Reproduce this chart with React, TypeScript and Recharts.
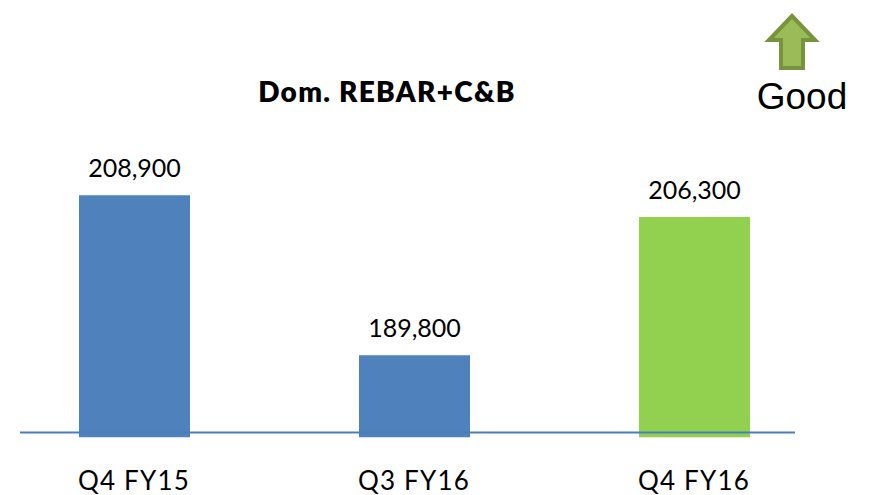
import React from 'react';
import { BarChart, Bar, XAxis, YAxis, LabelList, Cell, ReferenceLine } from 'recharts';

const categories = ['Q4 FY15', 'Q3 FY16', 'Q4 FY16'];
const volumes = [208900, 189800, 206300];
const barColors = ['#4F81BD', '#4F81BD', '#92D050'];

const data = categories.map((period, i) => ({ period, volume: volumes[i] }));

const FONT = 'Lato, "Open Sans", sans-serif';

const fmt = (v: number) => v.toLocaleString('en-US');

function GoodArrow() {
    return (
        <svg width={60} height={64} style={{ position: 'absolute', left: 762, top: 12 }}>
            <polygon
                points="30,4 53,28 41,28 41,56 19,56 19,28 7,28"
                fill="#9BBB59"
                stroke="#77933C"
                strokeWidth={4}
                strokeLinejoin="miter"
            />
        </svg>
    );
}

export default function App() {
    return (
        <div style={{ position: 'absolute', left: 0, top: 0, width: 871, height: 495, background: '#fff' }}>
            <BarChart
                width={871}
                height={495}
                data={data}
                margin={{ top: 144, right: 37, left: -6, bottom: 0 }}
                barCategoryGap={0}
            >
                <XAxis
                    dataKey="period"
                    axisLine={false}
                    tickLine={false}
                    height={57.5}
                    tick={{ fill: '#000', fontSize: 26, fontFamily: FONT, letterSpacing: 1.2 }}
                    tickMargin={28}
                />
                <YAxis hide domain={[180000, 215000]} allowDataOverflow />
                <Bar dataKey="volume" barSize={111} isAnimationActive={false}>
                    {data.map((d, i) => (
                        <Cell key={d.period} fill={barColors[i]} />
                    ))}
                    <LabelList
                        dataKey="volume"
                        position="top"
                        offset={18}
                        formatter={(v: any) => fmt(Number(v))}
                        style={{ fill: '#000', fontSize: 25, fontFamily: FONT }}
                    />
                </Bar>
                <ReferenceLine
                    y={180600}
                    ifOverflow="extendDomain"
                    shape={(p: any) => (
                        <line x1={20} x2={795} y1={p.y1} y2={p.y2} stroke="#4A7EBB" strokeWidth={2} />
                    )}
                />
            </BarChart>
            <div
                style={{
                    position: 'absolute',
                    left: 187,
                    width: 400,
                    top: 74,
                    textAlign: 'center',
                    fontFamily: FONT,
                    fontWeight: 800,
                    fontSize: 28,
                    letterSpacing: 1.3,
                    color: '#000',
                }}
            >
                Dom. REBAR+C&amp;B
            </div>
            <GoodArrow />
            <div
                style={{
                    position: 'absolute',
                    left: 752,
                    width: 100,
                    top: 76,
                    textAlign: 'center',
                    fontFamily: '"Liberation Sans", Arial, sans-serif',
                    fontSize: 37,
                    color: '#000',
                }}
            >
                Good
            </div>
        </div>
    );
}
